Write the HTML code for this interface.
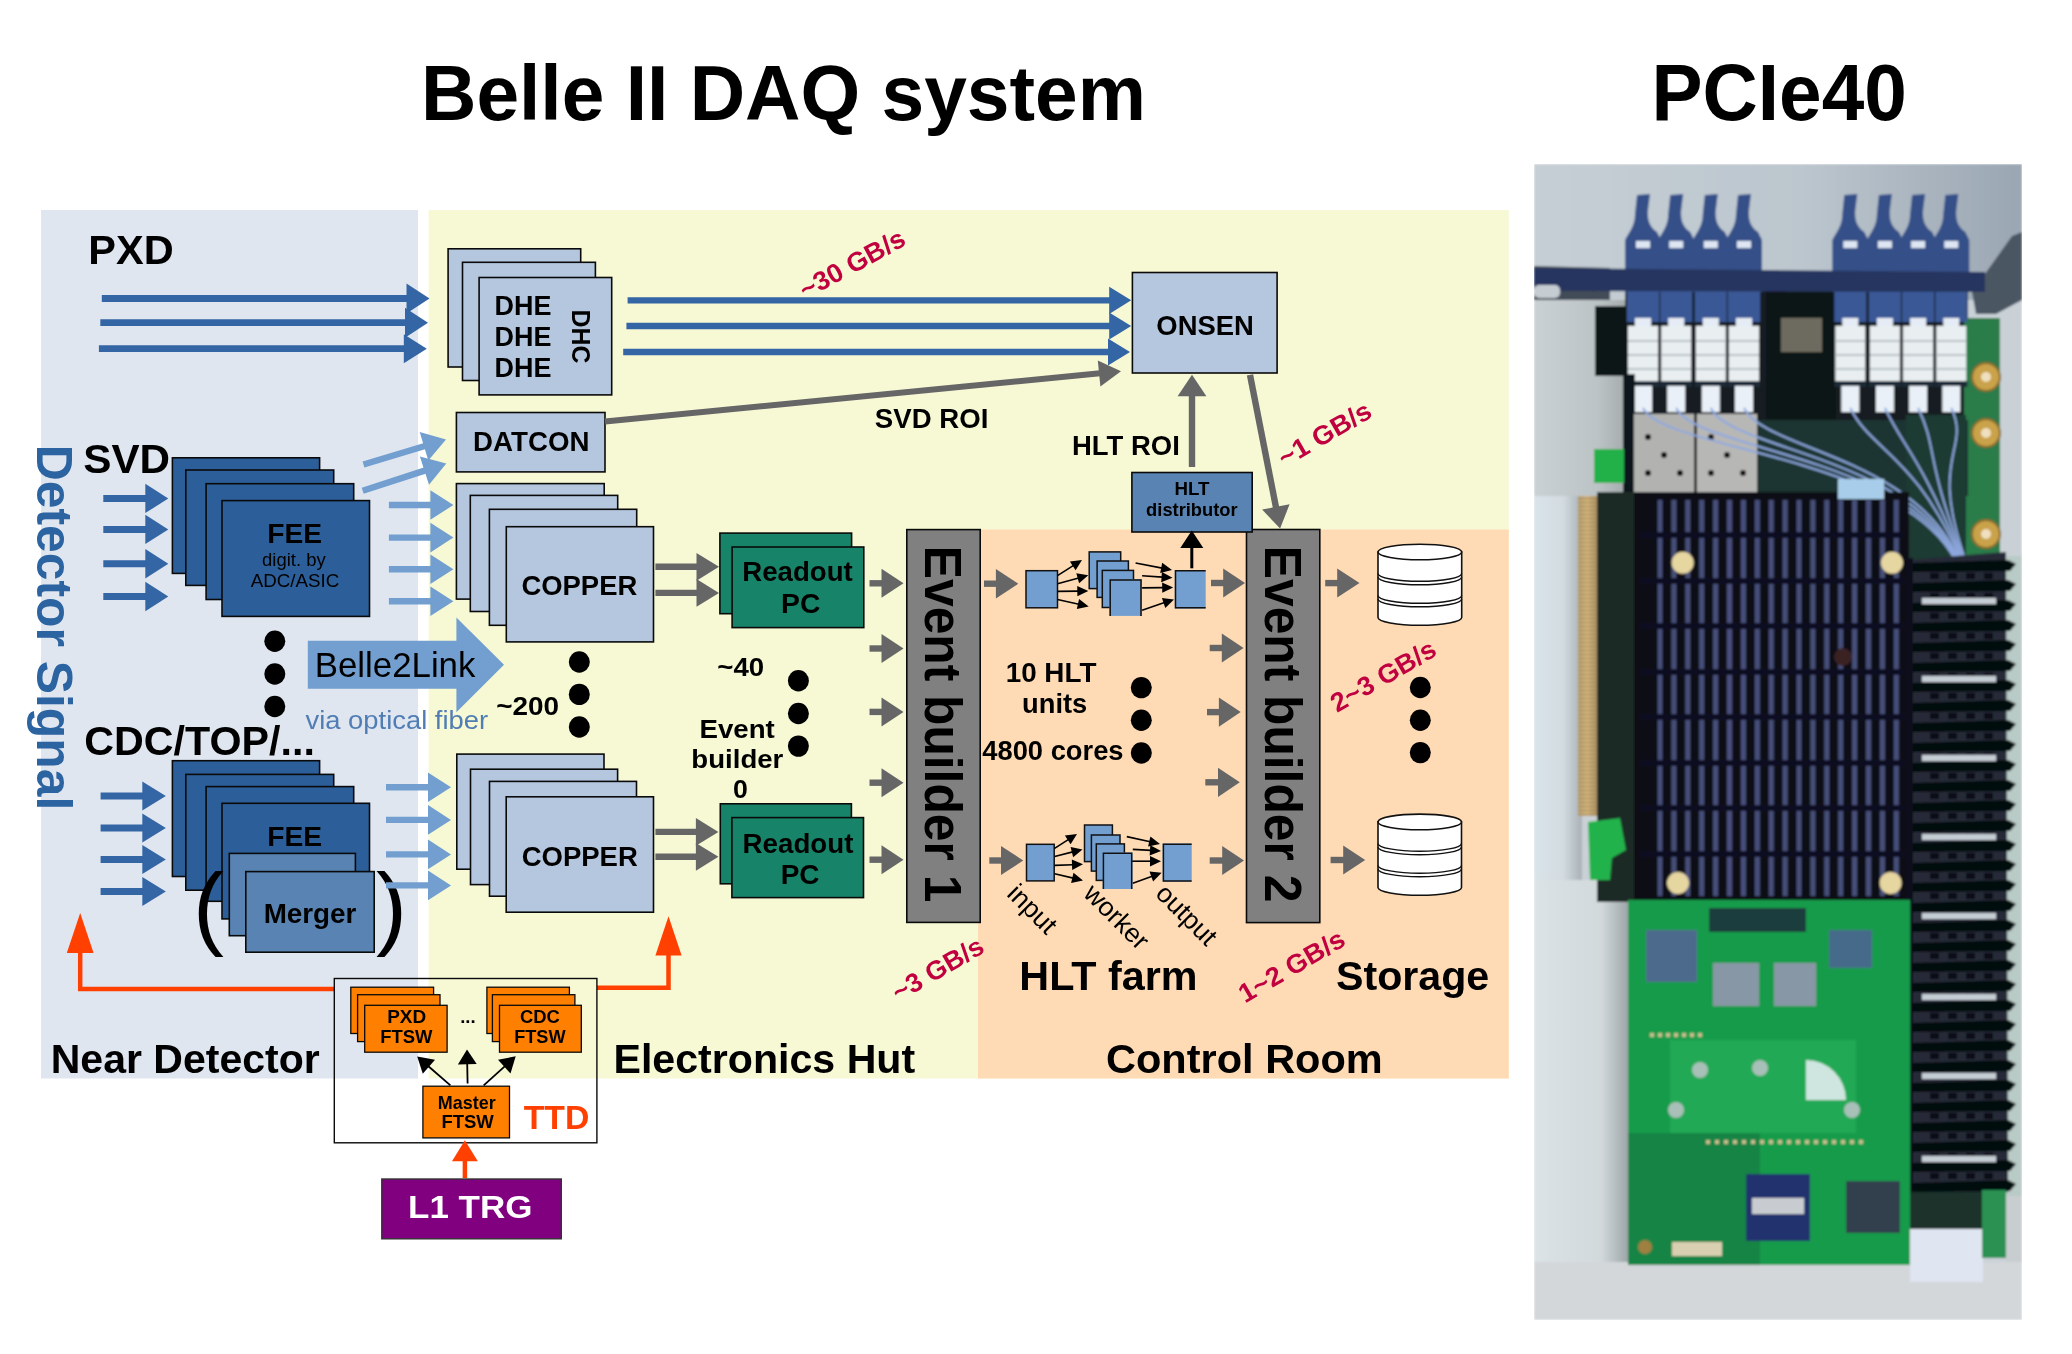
<!DOCTYPE html>
<html><head><meta charset="utf-8"><style>
html,body{margin:0;padding:0;background:#fff;width:2072px;height:1354px;overflow:hidden;font-family:"Liberation Sans", sans-serif;}
svg{will-change:transform}
</style></head><body>
<svg width="2072" height="1354" viewBox="0 0 2072 1354" style="position:absolute;left:0;top:0" font-family='"Liberation Sans", sans-serif'>
<rect x="0.0" y="0.0" width="2072.0" height="1354.0" fill="#ffffff"/>
<rect x="41.0" y="210.0" width="377.0" height="868.5" fill="#dfe6f0"/>
<rect x="428.6" y="210.0" width="1080.2" height="868.5" fill="#f7f9d5"/>
<rect x="978.0" y="529.5" width="530.8" height="549.0" fill="#ffdbb5"/>
<text id="t0" x="420.98" y="120.00" font-size="78.5" font-weight="bold" fill="#000" textLength="724.95" lengthAdjust="spacingAndGlyphs">Belle II DAQ system</text>
<text id="t1" x="1651.55" y="120.40" font-size="79" font-weight="bold" fill="#000" textLength="255.20" lengthAdjust="spacingAndGlyphs">PCIe40</text>
<text id="t2" x="88.32" y="263.60" font-size="41.5" font-weight="bold" fill="#000" textLength="85.35" lengthAdjust="spacingAndGlyphs">PXD</text>
<line x1="101.8" y1="298.5" x2="407.5" y2="298.5" stroke="#3465a4" stroke-width="6.8"/>
<polygon points="429.5,298.5 406.5,313.5 406.5,283.5" fill="#3465a4"/>
<line x1="100.3" y1="322.7" x2="406.0" y2="322.7" stroke="#3465a4" stroke-width="6.8"/>
<polygon points="428.0,322.7 405.0,337.7 405.0,307.7" fill="#3465a4"/>
<line x1="98.9" y1="348.7" x2="404.8" y2="348.7" stroke="#3465a4" stroke-width="6.8"/>
<polygon points="426.8,348.7 403.8,363.2 403.8,334.2" fill="#3465a4"/>
<rect x="448.1" y="248.8" width="132.6" height="118.2" fill="#b4c7de" stroke="#0a0a0a" stroke-width="1.6" />
<rect x="462.5" y="262.3" width="132.9" height="118.2" fill="#b4c7de" stroke="#0a0a0a" stroke-width="1.6" />
<rect x="479.1" y="277.5" width="132.6" height="117.4" fill="#b4c7de" stroke="#0a0a0a" stroke-width="1.6" />
<text id="t3" x="494.62" y="315.00" font-size="27.5" font-weight="bold" fill="#000" textLength="56.85" lengthAdjust="spacingAndGlyphs">DHE</text>
<text id="t4" x="494.62" y="346.00" font-size="27.5" font-weight="bold" fill="#000" textLength="56.85" lengthAdjust="spacingAndGlyphs">DHE</text>
<text id="t5" x="494.62" y="377.20" font-size="27.5" font-weight="bold" fill="#000" textLength="56.85" lengthAdjust="spacingAndGlyphs">DHE</text>
<text x="0.0" y="0.0" font-size="26" font-weight="bold" fill="#000" textLength="54.0" lengthAdjust="spacingAndGlyphs" transform="translate(571.6,309.4) rotate(90)" >DHC</text>
<line x1="627.6" y1="300.3" x2="1110.2" y2="300.3" stroke="#3465a4" stroke-width="6.3"/>
<polygon points="1131.2,300.3 1109.2,313.9 1109.2,286.7" fill="#3465a4"/>
<line x1="626.4" y1="326.0" x2="1110.2" y2="326.0" stroke="#3465a4" stroke-width="6.3"/>
<polygon points="1131.2,326.0 1109.2,339.6 1109.2,312.4" fill="#3465a4"/>
<line x1="623.2" y1="352.0" x2="1109.0" y2="352.0" stroke="#3465a4" stroke-width="6.3"/>
<polygon points="1130.0,352.0 1108.0,365.6 1108.0,338.4" fill="#3465a4"/>
<text x="0.0" y="0.0" font-size="26.5" font-weight="bold" fill="#c0003f" textLength="116.0" lengthAdjust="spacingAndGlyphs" transform="translate(805.5,299.5) rotate(-28.5)" >~30 GB/s</text>
<rect x="1132.4" y="272.5" width="144.7" height="100.5" fill="#b4c7de" stroke="#0a0a0a" stroke-width="1.6" />
<text id="t6" x="1156.33" y="335.10" font-size="27.5" font-weight="bold" fill="#000" textLength="97.55" lengthAdjust="spacingAndGlyphs">ONSEN</text>
<rect x="456.4" y="412.5" width="148.6" height="59.4" fill="#b4c7de" stroke="#0a0a0a" stroke-width="1.6" />
<text id="t7" x="473.12" y="451.20" font-size="27.5" font-weight="bold" fill="#000" textLength="116.35" lengthAdjust="spacingAndGlyphs">DATCON</text>
<line x1="605.0" y1="421.6" x2="1100.1" y2="373.3" stroke="#666666" stroke-width="6"/>
<polygon points="1121.0,371.3 1100.4,386.4 1097.8,360.5" fill="#666666"/>
<text id="t8" x="874.85" y="427.50" font-size="27" font-weight="bold" fill="#000" textLength="113.50" lengthAdjust="spacingAndGlyphs">SVD ROI</text>
<line x1="1192.0" y1="467.0" x2="1192.0" y2="395.3" stroke="#666666" stroke-width="6.4"/>
<polygon points="1192.0,374.8 1206.4,396.3 1177.6,396.3" fill="#666666"/>
<text id="t9" x="1072.02" y="454.50" font-size="27.5" font-weight="bold" fill="#000" textLength="107.85" lengthAdjust="spacingAndGlyphs">HLT ROI</text>
<line x1="1250.0" y1="374.8" x2="1276.1" y2="507.9" stroke="#666666" stroke-width="6.4"/>
<polygon points="1280.1,528.5 1262.1,509.6 1289.6,504.2" fill="#666666"/>
<text x="0.0" y="0.0" font-size="26.5" font-weight="bold" fill="#c0003f" textLength="103.0" lengthAdjust="spacingAndGlyphs" transform="translate(1284.5,467.5) rotate(-30)" >~1 GB/s</text>
<text id="t10" x="83.22" y="473.00" font-size="41.5" font-weight="bold" fill="#000" textLength="86.85" lengthAdjust="spacingAndGlyphs">SVD</text>
<line x1="103.3" y1="498.4" x2="146.3" y2="498.4" stroke="#3465a4" stroke-width="7"/>
<polygon points="168.3,498.4 145.3,513.1 145.3,483.7" fill="#3465a4"/>
<line x1="103.3" y1="529.4" x2="146.3" y2="529.4" stroke="#3465a4" stroke-width="7"/>
<polygon points="168.3,529.4 145.3,544.1 145.3,514.7" fill="#3465a4"/>
<line x1="103.3" y1="563.8" x2="146.3" y2="563.8" stroke="#3465a4" stroke-width="7"/>
<polygon points="168.3,563.8 145.3,578.5 145.3,549.1" fill="#3465a4"/>
<line x1="103.3" y1="596.5" x2="146.3" y2="596.5" stroke="#3465a4" stroke-width="7"/>
<polygon points="168.3,596.5 145.3,611.2 145.3,581.8" fill="#3465a4"/>
<rect x="172.4" y="457.8" width="147.2" height="115.6" fill="#2c5f99" stroke="#0a0a0a" stroke-width="1.6" />
<rect x="185.8" y="470.0" width="147.9" height="115.4" fill="#2c5f99" stroke="#0a0a0a" stroke-width="1.6" />
<rect x="206.1" y="483.7" width="147.6" height="115.8" fill="#2c5f99" stroke="#0a0a0a" stroke-width="1.6" />
<rect x="222.0" y="500.6" width="147.5" height="115.8" fill="#2c5f99" stroke="#0a0a0a" stroke-width="1.6" />
<text id="t11" x="267.25" y="542.60" font-size="27" font-weight="bold" fill="#000" textLength="54.80" lengthAdjust="spacingAndGlyphs">FEE</text>
<text id="t12" x="262.07" y="565.80" font-size="18.5" font-weight="normal" fill="#000" textLength="63.65" lengthAdjust="spacingAndGlyphs">digit. by</text>
<text id="t13" x="250.70" y="586.50" font-size="18" font-weight="normal" fill="#000" textLength="88.60" lengthAdjust="spacingAndGlyphs">ADC/ASIC</text>
<line x1="388.9" y1="505.0" x2="431.4" y2="505.0" stroke="#729fcf" stroke-width="6.4"/>
<polygon points="453.4,505.0 430.4,519.8 430.4,490.2" fill="#729fcf"/>
<line x1="388.9" y1="537.6" x2="431.4" y2="537.6" stroke="#729fcf" stroke-width="6.4"/>
<polygon points="453.4,537.6 430.4,552.4 430.4,522.8" fill="#729fcf"/>
<line x1="388.9" y1="569.2" x2="431.4" y2="569.2" stroke="#729fcf" stroke-width="6.4"/>
<polygon points="453.4,569.2 430.4,584.0 430.4,554.4" fill="#729fcf"/>
<line x1="388.9" y1="601.3" x2="431.4" y2="601.3" stroke="#729fcf" stroke-width="6.4"/>
<polygon points="453.4,601.3 430.4,616.1 430.4,586.5" fill="#729fcf"/>
<line x1="363.5" y1="464.5" x2="424.9" y2="446.0" stroke="#729fcf" stroke-width="6.4"/>
<polygon points="446.0,439.6 428.3,460.4 419.7,432.1" fill="#729fcf"/>
<line x1="362.7" y1="490.7" x2="425.4" y2="470.4" stroke="#729fcf" stroke-width="6.4"/>
<polygon points="446.3,463.6 429.0,484.8 419.9,456.6" fill="#729fcf"/>
<rect x="456.4" y="483.6" width="147.8" height="115.5" fill="#b4c7de" stroke="#0a0a0a" stroke-width="1.6" />
<rect x="470.3" y="495.4" width="147.4" height="116.1" fill="#b4c7de" stroke="#0a0a0a" stroke-width="1.6" />
<rect x="489.4" y="509.3" width="147.3" height="116.0" fill="#b4c7de" stroke="#0a0a0a" stroke-width="1.6" />
<rect x="506.3" y="526.7" width="147.2" height="115.2" fill="#b4c7de" stroke="#0a0a0a" stroke-width="1.6" />
<text id="t14" x="521.45" y="595.00" font-size="27" font-weight="bold" fill="#000" textLength="115.80" lengthAdjust="spacingAndGlyphs">COPPER</text>
<line x1="655.4" y1="566.8" x2="697.5" y2="566.8" stroke="#666666" stroke-width="6.4"/>
<polygon points="719.0,566.8 696.5,580.7 696.5,552.9" fill="#666666"/>
<line x1="655.4" y1="592.9" x2="697.5" y2="592.9" stroke="#666666" stroke-width="6.4"/>
<polygon points="719.0,592.9 696.5,606.8 696.5,579.0" fill="#666666"/>
<rect x="719.9" y="533.1" width="131.7" height="80.6" fill="#178469" stroke="#0a0a0a" stroke-width="1.6" />
<rect x="732.1" y="547.0" width="131.7" height="80.6" fill="#178469" stroke="#0a0a0a" stroke-width="1.6" />
<text id="t15" x="742.23" y="580.90" font-size="27.5" font-weight="bold" fill="#000" textLength="110.55" lengthAdjust="spacingAndGlyphs">Readout</text>
<text id="t16" x="781.12" y="612.50" font-size="27.5" font-weight="bold" fill="#000" textLength="39.25" lengthAdjust="spacingAndGlyphs">PC</text>
<polygon points="307.8,640.8 456.4,640.8 456.4,617.4 504,664.8 456.4,712.2 456.4,688.8 307.8,688.8" fill="#729fcf"/>
<text id="t17" x="314.68" y="676.80" font-size="34.5" font-weight="normal" fill="#000" textLength="160.75" lengthAdjust="spacingAndGlyphs">Belle2Link</text>
<text id="t18" x="305.50" y="728.80" font-size="26" font-weight="normal" fill="#507db4" textLength="182.60" lengthAdjust="spacingAndGlyphs">via optical fiber</text>
<ellipse cx="274.8" cy="641.3" rx="10.5" ry="10.7" fill="#000"/>
<ellipse cx="274.8" cy="674.0" rx="10.5" ry="10.7" fill="#000"/>
<ellipse cx="274.8" cy="706.5" rx="10.5" ry="10.7" fill="#000"/>
<ellipse cx="579.3" cy="662.0" rx="10.5" ry="10.7" fill="#000"/>
<ellipse cx="579.3" cy="694.4" rx="10.5" ry="10.7" fill="#000"/>
<ellipse cx="579.3" cy="727.0" rx="10.5" ry="10.7" fill="#000"/>
<ellipse cx="798.4" cy="680.8" rx="10.5" ry="10.7" fill="#000"/>
<ellipse cx="798.4" cy="713.5" rx="10.5" ry="10.7" fill="#000"/>
<ellipse cx="798.4" cy="746.1" rx="10.5" ry="10.7" fill="#000"/>
<ellipse cx="1141.3" cy="687.6" rx="10.5" ry="10.7" fill="#000"/>
<ellipse cx="1141.3" cy="720.3" rx="10.5" ry="10.7" fill="#000"/>
<ellipse cx="1141.3" cy="753.0" rx="10.5" ry="10.7" fill="#000"/>
<ellipse cx="1420.3" cy="687.5" rx="10.5" ry="10.7" fill="#000"/>
<ellipse cx="1420.3" cy="720.2" rx="10.5" ry="10.7" fill="#000"/>
<ellipse cx="1420.3" cy="752.6" rx="10.5" ry="10.7" fill="#000"/>
<text id="t19" x="496.27" y="714.70" font-size="26.5" font-weight="bold" fill="#000" textLength="62.85" lengthAdjust="spacingAndGlyphs">~200</text>
<text id="t20" x="717.28" y="676.30" font-size="26.5" font-weight="bold" fill="#000" textLength="46.85" lengthAdjust="spacingAndGlyphs">~40</text>
<text id="t21" x="699.48" y="737.60" font-size="26.5" font-weight="bold" fill="#000" textLength="75.35" lengthAdjust="spacingAndGlyphs">Event</text>
<text id="t22" x="691.37" y="768.00" font-size="26.5" font-weight="bold" fill="#000" textLength="91.95" lengthAdjust="spacingAndGlyphs">builder</text>
<text id="t23" x="733.07" y="798.40" font-size="26.5" font-weight="bold" fill="#000" textLength="14.85" lengthAdjust="spacingAndGlyphs">0</text>
<text id="t24" x="84.32" y="754.70" font-size="41.5" font-weight="bold" fill="#000" textLength="230.55" lengthAdjust="spacingAndGlyphs">CDC/TOP/...</text>
<line x1="100.6" y1="795.9" x2="143.3" y2="795.9" stroke="#3465a4" stroke-width="7"/>
<polygon points="165.8,795.9 142.3,810.4 142.3,781.4" fill="#3465a4"/>
<line x1="100.6" y1="828.1" x2="143.3" y2="828.1" stroke="#3465a4" stroke-width="7"/>
<polygon points="165.8,828.1 142.3,842.6 142.3,813.6" fill="#3465a4"/>
<line x1="100.6" y1="859.6" x2="143.3" y2="859.6" stroke="#3465a4" stroke-width="7"/>
<polygon points="165.8,859.6 142.3,874.1 142.3,845.1" fill="#3465a4"/>
<line x1="100.6" y1="891.6" x2="143.3" y2="891.6" stroke="#3465a4" stroke-width="7"/>
<polygon points="165.8,891.6 142.3,906.1 142.3,877.1" fill="#3465a4"/>
<rect x="172.4" y="760.7" width="147.2" height="115.8" fill="#2c5f99" stroke="#0a0a0a" stroke-width="1.6" />
<rect x="185.8" y="774.4" width="147.9" height="115.8" fill="#2c5f99" stroke="#0a0a0a" stroke-width="1.6" />
<rect x="206.1" y="786.6" width="147.6" height="114.7" fill="#2c5f99" stroke="#0a0a0a" stroke-width="1.6" />
<rect x="222.0" y="803.3" width="147.5" height="115.6" fill="#2c5f99" stroke="#0a0a0a" stroke-width="1.6" />
<text id="t25" x="267.25" y="846.10" font-size="27" font-weight="bold" fill="#000" textLength="54.80" lengthAdjust="spacingAndGlyphs">FEE</text>
<rect x="229.3" y="853.4" width="126.1" height="82.3" fill="#5983b2" stroke="#0a0a0a" stroke-width="1.6" />
<rect x="245.8" y="871.6" width="128.4" height="80.6" fill="#5983b2" stroke="#0a0a0a" stroke-width="1.6" />
<text id="t26" x="263.65" y="923.00" font-size="27" font-weight="bold" fill="#000" textLength="92.70" lengthAdjust="spacingAndGlyphs">Merger</text>
<text x="193.0" y="937.5" font-size="93" font-weight="normal" fill="#000" >(</text>
<text x="376.0" y="937.5" font-size="93" font-weight="normal" fill="#000" >)</text>
<line x1="386.0" y1="787.2" x2="429.0" y2="787.2" stroke="#729fcf" stroke-width="6.4"/>
<polygon points="451.0,787.2 428.0,802.0 428.0,772.4" fill="#729fcf"/>
<line x1="386.0" y1="819.9" x2="429.0" y2="819.9" stroke="#729fcf" stroke-width="6.4"/>
<polygon points="451.0,819.9 428.0,834.7 428.0,805.1" fill="#729fcf"/>
<line x1="386.0" y1="854.4" x2="429.0" y2="854.4" stroke="#729fcf" stroke-width="6.4"/>
<polygon points="451.0,854.4 428.0,869.2 428.0,839.6" fill="#729fcf"/>
<line x1="386.0" y1="885.4" x2="429.0" y2="885.4" stroke="#729fcf" stroke-width="6.4"/>
<polygon points="451.0,885.4 428.0,900.2 428.0,870.6" fill="#729fcf"/>
<rect x="456.8" y="754.1" width="147.2" height="115.1" fill="#b4c7de" stroke="#0a0a0a" stroke-width="1.6" />
<rect x="470.5" y="769.2" width="147.1" height="115.4" fill="#b4c7de" stroke="#0a0a0a" stroke-width="1.6" />
<rect x="489.5" y="781.4" width="147.0" height="114.8" fill="#b4c7de" stroke="#0a0a0a" stroke-width="1.6" />
<rect x="506.2" y="796.8" width="147.3" height="115.4" fill="#b4c7de" stroke="#0a0a0a" stroke-width="1.6" />
<text id="t27" x="521.65" y="865.70" font-size="27" font-weight="bold" fill="#000" textLength="116.20" lengthAdjust="spacingAndGlyphs">COPPER</text>
<line x1="655.4" y1="831.9" x2="696.9" y2="831.9" stroke="#666666" stroke-width="6.4"/>
<polygon points="718.4,831.9 695.9,845.8 695.9,818.0" fill="#666666"/>
<line x1="655.4" y1="856.8" x2="696.9" y2="856.8" stroke="#666666" stroke-width="6.4"/>
<polygon points="718.4,856.8 695.9,870.7 695.9,842.9" fill="#666666"/>
<rect x="720.3" y="803.8" width="131.1" height="80.0" fill="#178469" stroke="#0a0a0a" stroke-width="1.6" />
<rect x="731.9" y="817.6" width="131.6" height="80.0" fill="#178469" stroke="#0a0a0a" stroke-width="1.6" />
<text id="t28" x="742.62" y="852.70" font-size="27.5" font-weight="bold" fill="#000" textLength="110.75" lengthAdjust="spacingAndGlyphs">Readout</text>
<text id="t29" x="780.73" y="884.00" font-size="27.5" font-weight="bold" fill="#000" textLength="38.85" lengthAdjust="spacingAndGlyphs">PC</text>
<line x1="869.5" y1="583.3" x2="882.5" y2="583.3" stroke="#666666" stroke-width="6.4"/>
<polygon points="903.5,583.3 881.5,597.8 881.5,568.8" fill="#666666"/>
<line x1="869.5" y1="648.5" x2="882.5" y2="648.5" stroke="#666666" stroke-width="6.4"/>
<polygon points="903.5,648.5 881.5,663.0 881.5,634.0" fill="#666666"/>
<line x1="869.5" y1="711.9" x2="882.5" y2="711.9" stroke="#666666" stroke-width="6.4"/>
<polygon points="903.5,711.9 881.5,726.4 881.5,697.4" fill="#666666"/>
<line x1="869.5" y1="782.7" x2="882.5" y2="782.7" stroke="#666666" stroke-width="6.4"/>
<polygon points="903.5,782.7 881.5,797.2 881.5,768.2" fill="#666666"/>
<line x1="869.5" y1="859.7" x2="882.5" y2="859.7" stroke="#666666" stroke-width="6.4"/>
<polygon points="903.5,859.7 881.5,874.2 881.5,845.2" fill="#666666"/>
<rect x="906.8" y="529.6" width="73.4" height="392.8" fill="#808080" stroke="#0a0a0a" stroke-width="1.6" />
<text x="0.0" y="0.0" font-size="51" font-weight="bold" fill="#000" textLength="356.5" lengthAdjust="spacingAndGlyphs" transform="translate(925,545.8) rotate(90)" >Event builder 1</text>
<rect x="1246.5" y="529.5" width="73.3" height="393.1" fill="#808080" stroke="#0a0a0a" stroke-width="1.6" />
<text x="0.0" y="0.0" font-size="51" font-weight="bold" fill="#000" textLength="356.5" lengthAdjust="spacingAndGlyphs" transform="translate(1265,545.8) rotate(90)" >Event builder 2</text>
<rect x="1131.9" y="472.5" width="120.3" height="59.5" fill="#5983b2" stroke="#0a0a0a" stroke-width="1.6" />
<text id="t30" x="1174.42" y="495.40" font-size="17.5" font-weight="bold" fill="#000" textLength="35.05" lengthAdjust="spacingAndGlyphs">HLT</text>
<text id="t31" x="1146.12" y="515.50" font-size="17.5" font-weight="bold" fill="#000" textLength="91.55" lengthAdjust="spacingAndGlyphs">distributor</text>
<rect x="1026.0" y="570.7" width="31.5" height="37.1" fill="#729fcf" stroke="#111" stroke-width="1.5" />
<rect x="1089.2" y="551.9" width="31.5" height="36.7" fill="#729fcf" stroke="#111" stroke-width="1.5" />
<rect x="1097.1" y="561.0" width="31.3" height="36.4" fill="#729fcf" stroke="#111" stroke-width="1.5" />
<rect x="1102.3" y="570.4" width="31.2" height="37.1" fill="#729fcf" stroke="#111" stroke-width="1.5" />
<rect x="1109.5" y="579.1" width="32.3" height="36.8" fill="#729fcf"/>
<polyline points="1110.2,615.95 1110.2,579.9 1141,579.9 1141,615.95" fill="none" stroke="#111" stroke-width="1.5"/>
<rect x="1174.8" y="570.0" width="30.9" height="38.6" fill="#729fcf"/>
<polyline points="1205.65,570.7 1175.5,570.7 1175.5,607.8 1205.65,607.8" fill="none" stroke="#111" stroke-width="1.5"/>
<line x1="1057.5" y1="575.7" x2="1073.6" y2="565.3" stroke="#000" stroke-width="1.6"/>
<polygon points="1082.0,559.9 1075.6,570.2 1069.9,561.5" fill="#000"/>
<line x1="1057.5" y1="583.7" x2="1078.7" y2="577.9" stroke="#000" stroke-width="1.6"/>
<polygon points="1088.3,575.3 1079.1,583.2 1076.3,573.2" fill="#000"/>
<line x1="1057.5" y1="591.4" x2="1078.3" y2="591.1" stroke="#000" stroke-width="1.6"/>
<polygon points="1088.3,591.0 1077.4,596.3 1077.2,585.9" fill="#000"/>
<line x1="1057.5" y1="599.5" x2="1078.9" y2="604.2" stroke="#000" stroke-width="1.6"/>
<polygon points="1088.7,606.4 1076.8,609.1 1079.1,598.9" fill="#000"/>
<line x1="1135.6" y1="563.0" x2="1162.2" y2="568.1" stroke="#000" stroke-width="1.6"/>
<polygon points="1172.0,570.0 1160.2,573.0 1162.2,562.8" fill="#000"/>
<line x1="1142.1" y1="575.7" x2="1162.5" y2="577.1" stroke="#000" stroke-width="1.6"/>
<polygon points="1172.5,577.8 1161.2,582.2 1161.9,571.9" fill="#000"/>
<line x1="1142.1" y1="587.9" x2="1163.2" y2="587.6" stroke="#000" stroke-width="1.6"/>
<polygon points="1173.2,587.5 1162.3,592.8 1162.1,582.4" fill="#000"/>
<line x1="1142.1" y1="610.3" x2="1164.5" y2="602.6" stroke="#000" stroke-width="1.6"/>
<polygon points="1174.0,599.4 1165.3,607.9 1161.9,598.0" fill="#000"/>
<rect x="1026.5" y="844.3" width="27.7" height="36.6" fill="#729fcf" stroke="#111" stroke-width="1.5" />
<rect x="1084.5" y="825.0" width="27.9" height="36.6" fill="#729fcf" stroke="#111" stroke-width="1.5" />
<rect x="1091.4" y="835.0" width="28.6" height="36.1" fill="#729fcf" stroke="#111" stroke-width="1.5" />
<rect x="1096.3" y="843.9" width="28.1" height="36.5" fill="#729fcf" stroke="#111" stroke-width="1.5" />
<rect x="1102.7" y="852.5" width="29.8" height="36.5" fill="#729fcf"/>
<polyline points="1103.4,888.95 1103.4,853.2 1131.7,853.2 1131.7,888.95" fill="none" stroke="#111" stroke-width="1.5"/>
<rect x="1162.7" y="843.5" width="29.0" height="38.1" fill="#729fcf"/>
<polyline points="1191.65,844.3 1163.4,844.3 1163.4,880.9 1191.65,880.9" fill="none" stroke="#111" stroke-width="1.5"/>
<line x1="1054.6" y1="848.3" x2="1068.6" y2="839.3" stroke="#000" stroke-width="1.6"/>
<polygon points="1077.0,833.9 1070.6,844.2 1064.9,835.5" fill="#000"/>
<line x1="1054.6" y1="856.5" x2="1072.8" y2="851.9" stroke="#000" stroke-width="1.6"/>
<polygon points="1082.5,849.4 1073.1,857.2 1070.6,847.1" fill="#000"/>
<line x1="1054.6" y1="865.4" x2="1073.0" y2="864.7" stroke="#000" stroke-width="1.6"/>
<polygon points="1083.0,864.3 1072.2,869.9 1071.8,859.5" fill="#000"/>
<line x1="1054.6" y1="873.8" x2="1073.3" y2="878.1" stroke="#000" stroke-width="1.6"/>
<polygon points="1083.0,880.4 1071.1,883.0 1073.5,872.8" fill="#000"/>
<line x1="1126.8" y1="836.6" x2="1150.2" y2="841.8" stroke="#000" stroke-width="1.6"/>
<polygon points="1160.0,843.9 1148.1,846.6 1150.4,836.5" fill="#000"/>
<line x1="1132.8" y1="849.4" x2="1151.0" y2="850.4" stroke="#000" stroke-width="1.6"/>
<polygon points="1161.0,851.0 1149.7,855.6 1150.3,845.2" fill="#000"/>
<line x1="1132.2" y1="861.2" x2="1151.0" y2="861.2" stroke="#000" stroke-width="1.6"/>
<polygon points="1161.0,861.2 1150.0,866.4 1150.0,856.0" fill="#000"/>
<line x1="1132.8" y1="883.3" x2="1152.2" y2="876.2" stroke="#000" stroke-width="1.6"/>
<polygon points="1161.6,872.7 1153.1,881.4 1149.5,871.6" fill="#000"/>
<line x1="1191.8" y1="568.3" x2="1191.8" y2="547.0" stroke="#000" stroke-width="3"/>
<polygon points="1191.8,530.5 1203.3,548.0 1180.3,548.0" fill="#000"/>
<line x1="984.0" y1="583.7" x2="996.9" y2="583.7" stroke="#666666" stroke-width="6.4"/>
<polygon points="1018.3,583.7 995.9,598.4 995.9,569.0" fill="#666666"/>
<line x1="989.3" y1="860.5" x2="1002.0" y2="860.5" stroke="#666666" stroke-width="6.4"/>
<polygon points="1023.2,860.5 1001.0,875.1 1001.0,845.9" fill="#666666"/>
<line x1="1211.0" y1="583.0" x2="1224.2" y2="583.0" stroke="#666666" stroke-width="6.4"/>
<polygon points="1245.0,583.0 1223.2,597.6 1223.2,568.4" fill="#666666"/>
<line x1="1209.7" y1="648.0" x2="1222.8" y2="648.0" stroke="#666666" stroke-width="6.4"/>
<polygon points="1243.6,648.0 1221.8,662.6 1221.8,633.4" fill="#666666"/>
<line x1="1207.0" y1="712.1" x2="1219.9" y2="712.1" stroke="#666666" stroke-width="6.4"/>
<polygon points="1240.7,712.1 1218.9,726.7 1218.9,697.5" fill="#666666"/>
<line x1="1205.3" y1="782.3" x2="1219.0" y2="782.3" stroke="#666666" stroke-width="6.4"/>
<polygon points="1239.8,782.3 1218.0,796.9 1218.0,767.7" fill="#666666"/>
<line x1="1209.7" y1="860.5" x2="1223.2" y2="860.5" stroke="#666666" stroke-width="6.4"/>
<polygon points="1244.0,860.5 1222.2,875.1 1222.2,845.9" fill="#666666"/>
<text id="t32" x="1005.65" y="682.30" font-size="27" font-weight="bold" fill="#000" textLength="90.80" lengthAdjust="spacingAndGlyphs">10 HLT</text>
<text id="t33" x="1022.05" y="713.20" font-size="27" font-weight="bold" fill="#000" textLength="65.20" lengthAdjust="spacingAndGlyphs">units</text>
<text id="t34" x="982.25" y="760.10" font-size="27" font-weight="bold" fill="#000" textLength="141.30" lengthAdjust="spacingAndGlyphs">4800 cores</text>
<text x="0.0" y="0.0" font-size="26.5" font-weight="normal" fill="#000" transform="translate(1005.8,895) rotate(45)" >input</text>
<text x="0.0" y="0.0" font-size="26.5" font-weight="normal" fill="#000" transform="translate(1082.3,895) rotate(45)" >worker</text>
<text x="0.0" y="0.0" font-size="26.5" font-weight="normal" fill="#000" transform="translate(1154.3,895) rotate(45)" >output</text>
<line x1="1325.2" y1="583.1" x2="1338.2" y2="583.1" stroke="#666666" stroke-width="6.4"/>
<polygon points="1359.5,583.1 1337.2,597.6 1337.2,568.6" fill="#666666"/>
<line x1="1330.6" y1="860.0" x2="1344.2" y2="860.0" stroke="#666666" stroke-width="6.4"/>
<polygon points="1365.2,860.0 1343.2,874.6 1343.2,845.4" fill="#666666"/>
<path d="M1378,552.0 L1378,617.5 A41.85000000000002,7.8 0 0 0 1461.7,617.5 L1461.7,552.0 Z" fill="#fff" stroke="#111" stroke-width="1.6"/>
<ellipse cx="1419.85" cy="552.0" rx="41.85000000000002" ry="7.8" fill="#fff" stroke="#111" stroke-width="1.6"/>
<path d="M1378,573.5 A41.85000000000002,7.8 0 0 0 1461.7,573.5" fill="none" stroke="#111" stroke-width="1.4"/>
<path d="M1378,577.0 A41.85000000000002,7.8 0 0 0 1461.7,577.0" fill="none" stroke="#111" stroke-width="1.4"/>
<path d="M1378,595.5 A41.85000000000002,7.8 0 0 0 1461.7,595.5" fill="none" stroke="#111" stroke-width="1.4"/>
<path d="M1378,599.0 A41.85000000000002,7.8 0 0 0 1461.7,599.0" fill="none" stroke="#111" stroke-width="1.4"/>
<path d="M1378,821.9 L1378,887.4 A41.75,7.8 0 0 0 1461.5,887.4 L1461.5,821.9 Z" fill="#fff" stroke="#111" stroke-width="1.6"/>
<ellipse cx="1419.75" cy="821.9" rx="41.75" ry="7.8" fill="#fff" stroke="#111" stroke-width="1.6"/>
<path d="M1378,843.4 A41.75,7.8 0 0 0 1461.5,843.4" fill="none" stroke="#111" stroke-width="1.4"/>
<path d="M1378,846.9 A41.75,7.8 0 0 0 1461.5,846.9" fill="none" stroke="#111" stroke-width="1.4"/>
<path d="M1378,865.4 A41.75,7.8 0 0 0 1461.5,865.4" fill="none" stroke="#111" stroke-width="1.4"/>
<path d="M1378,868.9 A41.75,7.8 0 0 0 1461.5,868.9" fill="none" stroke="#111" stroke-width="1.4"/>
<text x="0.0" y="0.0" font-size="26.5" font-weight="bold" fill="#c0003f" textLength="117.0" lengthAdjust="spacingAndGlyphs" transform="translate(1337,713) rotate(-30)" >2~3 GB/s</text>
<text x="0.0" y="0.0" font-size="26.5" font-weight="bold" fill="#c0003f" textLength="101.0" lengthAdjust="spacingAndGlyphs" transform="translate(898.5,1002) rotate(-30)" >~3 GB/s</text>
<text x="0.0" y="0.0" font-size="26.5" font-weight="bold" fill="#c0003f" textLength="118.0" lengthAdjust="spacingAndGlyphs" transform="translate(1245,1003.5) rotate(-30)" >1~2 GB/s</text>
<text id="t35" x="1019.32" y="989.50" font-size="41.5" font-weight="bold" fill="#000" textLength="178.25" lengthAdjust="spacingAndGlyphs">HLT farm</text>
<text id="t36" x="1336.03" y="990.30" font-size="41.5" font-weight="bold" fill="#000" textLength="153.25" lengthAdjust="spacingAndGlyphs">Storage</text>
<text id="t37" x="50.73" y="1073.10" font-size="41.5" font-weight="bold" fill="#000" textLength="268.95" lengthAdjust="spacingAndGlyphs">Near Detector</text>
<text id="t38" x="613.53" y="1072.90" font-size="41.5" font-weight="bold" fill="#000" textLength="301.65" lengthAdjust="spacingAndGlyphs">Electronics Hut</text>
<text id="t39" x="1106.03" y="1072.90" font-size="41.5" font-weight="bold" fill="#000" textLength="276.75" lengthAdjust="spacingAndGlyphs">Control Room</text>
<text x="0.0" y="0.0" font-size="50" font-weight="bold" fill="#2c64a2" textLength="365.5" lengthAdjust="spacingAndGlyphs" transform="translate(36.6,444.8) rotate(90)" >Detector Signal</text>
<polyline points="80.2,935 80.2,989 335,989" fill="none" stroke="#ff4000" stroke-width="4.5"/>
<polygon points="80.2,912.9 93.6,953 66.8,953" fill="#ff4000"/>
<polyline points="597,987.8 668.5,987.8 668.5,945" fill="none" stroke="#ff4000" stroke-width="4.5"/>
<polygon points="668.5,916.2 681.6,955.4 655.4,955.4" fill="#ff4000"/>
<rect x="334.3" y="978.5" width="262.6" height="164.3" fill="none" stroke="#0a0a0a" stroke-width="1.4" />
<rect x="350.8" y="987.2" width="82.8" height="46.3" fill="#ff8000" stroke="#0a0a0a" stroke-width="1.3" />
<rect x="357.6" y="994.7" width="82.4" height="46.9" fill="#ff8000" stroke="#0a0a0a" stroke-width="1.3" />
<rect x="364.7" y="1005.3" width="82.4" height="46.9" fill="#ff8000" stroke="#0a0a0a" stroke-width="1.3" />
<text id="t40" x="387.17" y="1022.70" font-size="18.5" font-weight="bold" fill="#000" textLength="39.05" lengthAdjust="spacingAndGlyphs">PXD</text>
<text id="t41" x="380.27" y="1042.70" font-size="18.5" font-weight="bold" fill="#000" textLength="52.25" lengthAdjust="spacingAndGlyphs">FTSW</text>
<rect x="486.9" y="987.2" width="82.5" height="46.3" fill="#ff8000" stroke="#0a0a0a" stroke-width="1.3" />
<rect x="492.4" y="994.7" width="82.5" height="46.9" fill="#ff8000" stroke="#0a0a0a" stroke-width="1.3" />
<rect x="499.5" y="1005.3" width="81.8" height="46.9" fill="#ff8000" stroke="#0a0a0a" stroke-width="1.3" />
<text id="t42" x="519.97" y="1022.70" font-size="18.5" font-weight="bold" fill="#000" textLength="39.95" lengthAdjust="spacingAndGlyphs">CDC</text>
<text id="t43" x="514.18" y="1042.70" font-size="18.5" font-weight="bold" fill="#000" textLength="51.45" lengthAdjust="spacingAndGlyphs">FTSW</text>
<text id="t44" x="460.17" y="1023.30" font-size="18.5" font-weight="bold" fill="#000" textLength="15.45" lengthAdjust="spacingAndGlyphs">...</text>
<rect x="422.9" y="1086.2" width="86.6" height="51.7" fill="#ff8000" stroke="#0a0a0a" stroke-width="1.3" />
<text id="t45" x="437.77" y="1108.60" font-size="18.5" font-weight="bold" fill="#000" textLength="57.85" lengthAdjust="spacingAndGlyphs">Master</text>
<text id="t46" x="441.38" y="1128.10" font-size="18.5" font-weight="bold" fill="#000" textLength="52.45" lengthAdjust="spacingAndGlyphs">FTSW</text>
<line x1="450.4" y1="1085.4" x2="428.1" y2="1066.0" stroke="#000" stroke-width="1.8"/>
<polygon points="417.2,1056.5 435.0,1059.7 422.8,1073.7" fill="#000"/>
<line x1="467.6" y1="1083.5" x2="467.2" y2="1063.3" stroke="#000" stroke-width="1.8"/>
<polygon points="467.0,1049.6 476.7,1064.1 457.9,1064.5" fill="#000"/>
<line x1="483.7" y1="1085.4" x2="505.0" y2="1066.1" stroke="#000" stroke-width="1.8"/>
<polygon points="515.7,1056.3 510.5,1073.6 498.0,1059.8" fill="#000"/>
<text id="t47" x="523.70" y="1128.70" font-size="34" font-weight="bold" fill="#ff4000" textLength="65.60" lengthAdjust="spacingAndGlyphs">TTD</text>
<line x1="464.9" y1="1178.0" x2="464.9" y2="1160.2" stroke="#ff4000" stroke-width="4.5"/>
<polygon points="464.9,1140.2 477.8,1161.2 452.0,1161.2" fill="#ff4000"/>
<rect x="381.8" y="1179.0" width="179.5" height="59.8" fill="#800080" stroke="#333" stroke-width="1.4" />
<text id="t48" x="408.10" y="1217.80" font-size="32" font-weight="bold" fill="#fff" textLength="124.30" lengthAdjust="spacingAndGlyphs">L1 TRG</text>
<defs><clipPath id="pc"><rect x="1534" y="164" width="488" height="1156"/></clipPath><linearGradient id="bgtop" x1="0" y1="0" x2="1" y2="0"><stop offset="0" stop-color="#c6cfd5"/><stop offset="0.55" stop-color="#bcc6ce"/><stop offset="1" stop-color="#9aa6b2"/></linearGradient><linearGradient id="bgleft" x1="0" y1="0" x2="1" y2="0"><stop offset="0" stop-color="#d9e3e8"/><stop offset="0.6" stop-color="#d3dce1"/><stop offset="1" stop-color="#a9b1b6"/></linearGradient><linearGradient id="gold" x1="0" y1="0" x2="1" y2="0"><stop offset="0" stop-color="#b8a070"/><stop offset="0.5" stop-color="#d4b77c"/><stop offset="1" stop-color="#a89064"/></linearGradient><filter id="blr" x="-5%" y="-5%" width="110%" height="110%"><feGaussianBlur stdDeviation="1.1"/></filter></defs>
<g clip-path="url(#pc)"><g filter="url(#blr)">
<rect x="1534.0" y="164.0" width="488.0" height="1156.0" fill="#c9d1d7"/>
<rect x="1534.0" y="164.0" width="488.0" height="136.0" fill="url(#bgtop)"/>
<rect x="1534.0" y="290.0" width="48.0" height="980.0" fill="url(#bgleft)"/>
<linearGradient id="bgl2" x1="0" y1="0" x2="1" y2="0"><stop offset="0" stop-color="#dbe3e6"/><stop offset="0.7" stop-color="#d2d9dc"/><stop offset="1" stop-color="#9aa2a5"/></linearGradient>
<rect x="1534.0" y="880.0" width="96.0" height="386.0" fill="url(#bgl2)"/>
<rect x="1534.0" y="1262.0" width="488.0" height="58.0" fill="#d3d7da"/>
<rect x="2006.0" y="560.0" width="16.0" height="702.0" fill="#c8cdd0"/>
<polygon points="1972,292 2012,236 2022,232 2022,300 1996,314 1976,314" fill="#4c5663"/>
<polygon points="1534,266 1610,268 1610,306 1560,309 1534,308" fill="#434b58"/>
<linearGradient id="bgl3" x1="0" y1="0" x2="1" y2="0"><stop offset="0" stop-color="#cad1d4"/><stop offset="0.7" stop-color="#bcc3c5"/><stop offset="1" stop-color="#a4abad"/></linearGradient>
<rect x="1534.0" y="300.0" width="92.0" height="196.0" fill="url(#bgl3)"/>
<rect x="1625.0" y="290.0" width="343.0" height="130.0" fill="#161b22"/>
<rect x="1595.0" y="306.0" width="31.0" height="70.0" fill="#0f1519"/>
<rect x="1766.0" y="292.0" width="70.0" height="136.0" fill="#0f1216"/>
<rect x="1781.0" y="318.0" width="41.0" height="34.0" fill="#6d6b5e"/>
<rect x="1964.0" y="318.0" width="36.0" height="244.0" fill="#2b7b49"/>
<path d="M1637,195 L1650,194 L1648,210 C1647,222 1651,228 1657,232 L1661,240 L1661,292 L1625,292 L1625,240 C1629,232 1635,226 1635,214 Z" fill="#354f88"/>
<rect x="1636.0" y="241.0" width="14.0" height="7.0" fill="#dde6f2"/>
<rect x="1627.0" y="290.0" width="32.0" height="32.0" fill="#3a5896"/>
<rect x="1635.0" y="318.0" width="16.0" height="8.0" fill="#e6ecf6"/>
<rect x="1628.0" y="326.0" width="30.0" height="55.0" fill="#e9eef1"/>
<rect x="1628.0" y="340.0" width="30.0" height="2.0" fill="#b9c2c8"/>
<rect x="1628.0" y="354.0" width="30.0" height="2.0" fill="#b9c2c8"/>
<rect x="1628.0" y="368.0" width="30.0" height="2.0" fill="#b9c2c8"/>
<rect x="1627.0" y="381.0" width="32.0" height="6.0" fill="#1e2a38"/>
<rect x="1634.0" y="386.0" width="18.0" height="26.0" fill="#e9f0f7"/>
<path d="M1670.2,195 L1683.2,194 L1681.2,210 C1680.2,222 1684.2,228 1690.2,232 L1694.2,240 L1694.2,292 L1658.2,292 L1658.2,240 C1662.2,232 1668.2,226 1668.2,214 Z" fill="#354f88"/>
<rect x="1669.2" y="241.0" width="14.0" height="7.0" fill="#dde6f2"/>
<rect x="1660.2" y="290.0" width="32.0" height="32.0" fill="#3a5896"/>
<rect x="1668.2" y="318.0" width="16.0" height="8.0" fill="#e6ecf6"/>
<rect x="1661.2" y="326.0" width="30.0" height="55.0" fill="#e9eef1"/>
<rect x="1661.2" y="340.0" width="30.0" height="2.0" fill="#b9c2c8"/>
<rect x="1661.2" y="354.0" width="30.0" height="2.0" fill="#b9c2c8"/>
<rect x="1661.2" y="368.0" width="30.0" height="2.0" fill="#b9c2c8"/>
<rect x="1660.2" y="381.0" width="32.0" height="6.0" fill="#1e2a38"/>
<rect x="1667.2" y="386.0" width="18.0" height="26.0" fill="#e9f0f7"/>
<path d="M1704.8,195 L1717.8,194 L1715.8,210 C1714.8,222 1718.8,228 1724.8,232 L1728.8,240 L1728.8,292 L1692.8,292 L1692.8,240 C1696.8,232 1702.8,226 1702.8,214 Z" fill="#354f88"/>
<rect x="1703.8" y="241.0" width="14.0" height="7.0" fill="#dde6f2"/>
<rect x="1694.8" y="290.0" width="32.0" height="32.0" fill="#3a5896"/>
<rect x="1702.8" y="318.0" width="16.0" height="8.0" fill="#e6ecf6"/>
<rect x="1695.8" y="326.0" width="30.0" height="55.0" fill="#e9eef1"/>
<rect x="1695.8" y="340.0" width="30.0" height="2.0" fill="#b9c2c8"/>
<rect x="1695.8" y="354.0" width="30.0" height="2.0" fill="#b9c2c8"/>
<rect x="1695.8" y="368.0" width="30.0" height="2.0" fill="#b9c2c8"/>
<rect x="1694.8" y="381.0" width="32.0" height="6.0" fill="#1e2a38"/>
<rect x="1701.8" y="386.0" width="18.0" height="26.0" fill="#e9f0f7"/>
<path d="M1738,195 L1751,194 L1749,210 C1748,222 1752,228 1758,232 L1762,240 L1762,292 L1726,292 L1726,240 C1730,232 1736,226 1736,214 Z" fill="#354f88"/>
<rect x="1737.0" y="241.0" width="14.0" height="7.0" fill="#dde6f2"/>
<rect x="1728.0" y="290.0" width="32.0" height="32.0" fill="#3a5896"/>
<rect x="1736.0" y="318.0" width="16.0" height="8.0" fill="#e6ecf6"/>
<rect x="1729.0" y="326.0" width="30.0" height="55.0" fill="#e9eef1"/>
<rect x="1729.0" y="340.0" width="30.0" height="2.0" fill="#b9c2c8"/>
<rect x="1729.0" y="354.0" width="30.0" height="2.0" fill="#b9c2c8"/>
<rect x="1729.0" y="368.0" width="30.0" height="2.0" fill="#b9c2c8"/>
<rect x="1728.0" y="381.0" width="32.0" height="6.0" fill="#1e2a38"/>
<rect x="1735.0" y="386.0" width="18.0" height="26.0" fill="#e9f0f7"/>
<path d="M1844.3,195 L1857.3,194 L1855.3,210 C1854.3,222 1858.3,228 1864.3,232 L1868.3,240 L1868.3,292 L1832.3,292 L1832.3,240 C1836.3,232 1842.3,226 1842.3,214 Z" fill="#354f88"/>
<rect x="1843.3" y="241.0" width="14.0" height="7.0" fill="#dde6f2"/>
<rect x="1834.3" y="290.0" width="32.0" height="32.0" fill="#3a5896"/>
<rect x="1842.3" y="318.0" width="16.0" height="8.0" fill="#e6ecf6"/>
<rect x="1835.3" y="326.0" width="30.0" height="55.0" fill="#e9eef1"/>
<rect x="1835.3" y="340.0" width="30.0" height="2.0" fill="#b9c2c8"/>
<rect x="1835.3" y="354.0" width="30.0" height="2.0" fill="#b9c2c8"/>
<rect x="1835.3" y="368.0" width="30.0" height="2.0" fill="#b9c2c8"/>
<rect x="1834.3" y="381.0" width="32.0" height="6.0" fill="#1e2a38"/>
<rect x="1841.3" y="386.0" width="18.0" height="26.0" fill="#e9f0f7"/>
<path d="M1878.9,195 L1891.9,194 L1889.9,210 C1888.9,222 1892.9,228 1898.9,232 L1902.9,240 L1902.9,292 L1866.9,292 L1866.9,240 C1870.9,232 1876.9,226 1876.9,214 Z" fill="#354f88"/>
<rect x="1877.9" y="241.0" width="14.0" height="7.0" fill="#dde6f2"/>
<rect x="1868.9" y="290.0" width="32.0" height="32.0" fill="#3a5896"/>
<rect x="1876.9" y="318.0" width="16.0" height="8.0" fill="#e6ecf6"/>
<rect x="1869.9" y="326.0" width="30.0" height="55.0" fill="#e9eef1"/>
<rect x="1869.9" y="340.0" width="30.0" height="2.0" fill="#b9c2c8"/>
<rect x="1869.9" y="354.0" width="30.0" height="2.0" fill="#b9c2c8"/>
<rect x="1869.9" y="368.0" width="30.0" height="2.0" fill="#b9c2c8"/>
<rect x="1868.9" y="381.0" width="32.0" height="6.0" fill="#1e2a38"/>
<rect x="1875.9" y="386.0" width="18.0" height="26.0" fill="#e9f0f7"/>
<path d="M1912.1,195 L1925.1,194 L1923.1,210 C1922.1,222 1926.1,228 1932.1,232 L1936.1,240 L1936.1,292 L1900.1,292 L1900.1,240 C1904.1,232 1910.1,226 1910.1,214 Z" fill="#354f88"/>
<rect x="1911.1" y="241.0" width="14.0" height="7.0" fill="#dde6f2"/>
<rect x="1902.1" y="290.0" width="32.0" height="32.0" fill="#3a5896"/>
<rect x="1910.1" y="318.0" width="16.0" height="8.0" fill="#e6ecf6"/>
<rect x="1903.1" y="326.0" width="30.0" height="55.0" fill="#e9eef1"/>
<rect x="1903.1" y="340.0" width="30.0" height="2.0" fill="#b9c2c8"/>
<rect x="1903.1" y="354.0" width="30.0" height="2.0" fill="#b9c2c8"/>
<rect x="1903.1" y="368.0" width="30.0" height="2.0" fill="#b9c2c8"/>
<rect x="1902.1" y="381.0" width="32.0" height="6.0" fill="#1e2a38"/>
<rect x="1909.1" y="386.0" width="18.0" height="26.0" fill="#e9f0f7"/>
<path d="M1945.3,195 L1958.3,194 L1956.3,210 C1955.3,222 1959.3,228 1965.3,232 L1969.3,240 L1969.3,292 L1933.3,292 L1933.3,240 C1937.3,232 1943.3,226 1943.3,214 Z" fill="#354f88"/>
<rect x="1944.3" y="241.0" width="14.0" height="7.0" fill="#dde6f2"/>
<rect x="1935.3" y="290.0" width="32.0" height="32.0" fill="#3a5896"/>
<rect x="1943.3" y="318.0" width="16.0" height="8.0" fill="#e6ecf6"/>
<rect x="1936.3" y="326.0" width="30.0" height="55.0" fill="#e9eef1"/>
<rect x="1936.3" y="340.0" width="30.0" height="2.0" fill="#b9c2c8"/>
<rect x="1936.3" y="354.0" width="30.0" height="2.0" fill="#b9c2c8"/>
<rect x="1936.3" y="368.0" width="30.0" height="2.0" fill="#b9c2c8"/>
<rect x="1935.3" y="381.0" width="32.0" height="6.0" fill="#1e2a38"/>
<rect x="1942.3" y="386.0" width="18.0" height="26.0" fill="#e9f0f7"/>
<polygon points="1534,268 1985,272 1985,292 1534,291" fill="#26365f"/>
<rect x="1534" y="285" width="26" height="13" rx="5" fill="#c5ccd2"/>
<rect x="1623.0" y="374.0" width="12.0" height="122.0" fill="#10151a"/>
<rect x="1634.0" y="414.0" width="60.0" height="80.0" fill="#b2b2b0"/>
<rect x="1697.0" y="414.0" width="60.0" height="80.0" fill="#b7b7b5"/>
<circle cx="1648" cy="437" r="3" fill="#111"/>
<circle cx="1664" cy="455" r="3" fill="#111"/>
<circle cx="1648" cy="473" r="3" fill="#111"/>
<circle cx="1680" cy="473" r="3" fill="#111"/>
<circle cx="1711" cy="437" r="3" fill="#111"/>
<circle cx="1727" cy="455" r="3" fill="#111"/>
<circle cx="1711" cy="473" r="3" fill="#111"/>
<circle cx="1743" cy="473" r="3" fill="#111"/>
<rect x="1694.0" y="414.0" width="3.0" height="80.0" fill="#222"/>
<rect x="1757.0" y="420.0" width="211.0" height="76.0" fill="#1b3530"/>
<rect x="1594.0" y="449.0" width="30.0" height="34.0" fill="#22b04a"/>
<rect x="1906.0" y="415.0" width="60.0" height="147.0" fill="#1d3b31"/>
<circle cx="1986" cy="377" r="14" fill="#c9a24a" stroke="#8a6a2a" stroke-width="2"/><circle cx="1986" cy="377" r="5" fill="#f0e0c0"/>
<circle cx="1986" cy="433" r="14" fill="#c9a24a" stroke="#8a6a2a" stroke-width="2"/><circle cx="1986" cy="433" r="5" fill="#f0e0c0"/>
<circle cx="1986" cy="534" r="14" fill="#c9a24a" stroke="#8a6a2a" stroke-width="2"/><circle cx="1986" cy="534" r="5" fill="#f0e0c0"/>
<path d="M1643,408 C1663,450 1900,455 1955.0,560" fill="none" stroke="#8fa9e0" stroke-width="2"/>
<path d="M1676.2,408 C1696.2,450 1904,455 1956.5,560" fill="none" stroke="#8fa9e0" stroke-width="2"/>
<path d="M1710.8,408 C1730.8,450 1908,455 1958.0,560" fill="none" stroke="#8fa9e0" stroke-width="2"/>
<path d="M1744,408 C1764,450 1912,455 1959.5,560" fill="none" stroke="#8fa9e0" stroke-width="2"/>
<path d="M1850.3,408 C1870.3,450 1916,455 1961.0,560" fill="none" stroke="#8fa9e0" stroke-width="2"/>
<path d="M1884.9,408 C1904.9,450 1920,455 1962.5,560" fill="none" stroke="#8fa9e0" stroke-width="2"/>
<path d="M1918.1,408 C1938.1,450 1924,455 1964.0,560" fill="none" stroke="#8fa9e0" stroke-width="2"/>
<path d="M1951.3,408 C1971.3,450 1928,455 1965.5,560" fill="none" stroke="#8fa9e0" stroke-width="2"/>
<rect x="1578.0" y="496.0" width="19.0" height="320.0" fill="url(#gold)"/>
<rect x="1578.0" y="498.0" width="19.0" height="1.0" fill="#a08458"/>
<rect x="1578.0" y="502.0" width="19.0" height="1.0" fill="#a08458"/>
<rect x="1578.0" y="506.0" width="19.0" height="1.0" fill="#a08458"/>
<rect x="1578.0" y="510.0" width="19.0" height="1.0" fill="#a08458"/>
<rect x="1578.0" y="514.0" width="19.0" height="1.0" fill="#a08458"/>
<rect x="1578.0" y="518.0" width="19.0" height="1.0" fill="#a08458"/>
<rect x="1578.0" y="522.0" width="19.0" height="1.0" fill="#a08458"/>
<rect x="1578.0" y="526.0" width="19.0" height="1.0" fill="#a08458"/>
<rect x="1578.0" y="530.0" width="19.0" height="1.0" fill="#a08458"/>
<rect x="1578.0" y="534.0" width="19.0" height="1.0" fill="#a08458"/>
<rect x="1578.0" y="538.0" width="19.0" height="1.0" fill="#a08458"/>
<rect x="1578.0" y="542.0" width="19.0" height="1.0" fill="#a08458"/>
<rect x="1578.0" y="546.0" width="19.0" height="1.0" fill="#a08458"/>
<rect x="1578.0" y="550.0" width="19.0" height="1.0" fill="#a08458"/>
<rect x="1578.0" y="554.0" width="19.0" height="1.0" fill="#a08458"/>
<rect x="1578.0" y="558.0" width="19.0" height="1.0" fill="#a08458"/>
<rect x="1578.0" y="562.0" width="19.0" height="1.0" fill="#a08458"/>
<rect x="1578.0" y="566.0" width="19.0" height="1.0" fill="#a08458"/>
<rect x="1578.0" y="570.0" width="19.0" height="1.0" fill="#a08458"/>
<rect x="1578.0" y="574.0" width="19.0" height="1.0" fill="#a08458"/>
<rect x="1578.0" y="578.0" width="19.0" height="1.0" fill="#a08458"/>
<rect x="1578.0" y="582.0" width="19.0" height="1.0" fill="#a08458"/>
<rect x="1578.0" y="586.0" width="19.0" height="1.0" fill="#a08458"/>
<rect x="1578.0" y="590.0" width="19.0" height="1.0" fill="#a08458"/>
<rect x="1578.0" y="594.0" width="19.0" height="1.0" fill="#a08458"/>
<rect x="1578.0" y="598.0" width="19.0" height="1.0" fill="#a08458"/>
<rect x="1578.0" y="602.0" width="19.0" height="1.0" fill="#a08458"/>
<rect x="1578.0" y="606.0" width="19.0" height="1.0" fill="#a08458"/>
<rect x="1578.0" y="610.0" width="19.0" height="1.0" fill="#a08458"/>
<rect x="1578.0" y="614.0" width="19.0" height="1.0" fill="#a08458"/>
<rect x="1578.0" y="618.0" width="19.0" height="1.0" fill="#a08458"/>
<rect x="1578.0" y="622.0" width="19.0" height="1.0" fill="#a08458"/>
<rect x="1578.0" y="626.0" width="19.0" height="1.0" fill="#a08458"/>
<rect x="1578.0" y="630.0" width="19.0" height="1.0" fill="#a08458"/>
<rect x="1578.0" y="634.0" width="19.0" height="1.0" fill="#a08458"/>
<rect x="1578.0" y="638.0" width="19.0" height="1.0" fill="#a08458"/>
<rect x="1578.0" y="642.0" width="19.0" height="1.0" fill="#a08458"/>
<rect x="1578.0" y="646.0" width="19.0" height="1.0" fill="#a08458"/>
<rect x="1578.0" y="650.0" width="19.0" height="1.0" fill="#a08458"/>
<rect x="1578.0" y="654.0" width="19.0" height="1.0" fill="#a08458"/>
<rect x="1578.0" y="658.0" width="19.0" height="1.0" fill="#a08458"/>
<rect x="1578.0" y="662.0" width="19.0" height="1.0" fill="#a08458"/>
<rect x="1578.0" y="666.0" width="19.0" height="1.0" fill="#a08458"/>
<rect x="1578.0" y="670.0" width="19.0" height="1.0" fill="#a08458"/>
<rect x="1578.0" y="674.0" width="19.0" height="1.0" fill="#a08458"/>
<rect x="1578.0" y="678.0" width="19.0" height="1.0" fill="#a08458"/>
<rect x="1578.0" y="682.0" width="19.0" height="1.0" fill="#a08458"/>
<rect x="1578.0" y="686.0" width="19.0" height="1.0" fill="#a08458"/>
<rect x="1578.0" y="690.0" width="19.0" height="1.0" fill="#a08458"/>
<rect x="1578.0" y="694.0" width="19.0" height="1.0" fill="#a08458"/>
<rect x="1578.0" y="698.0" width="19.0" height="1.0" fill="#a08458"/>
<rect x="1578.0" y="702.0" width="19.0" height="1.0" fill="#a08458"/>
<rect x="1578.0" y="706.0" width="19.0" height="1.0" fill="#a08458"/>
<rect x="1578.0" y="710.0" width="19.0" height="1.0" fill="#a08458"/>
<rect x="1578.0" y="714.0" width="19.0" height="1.0" fill="#a08458"/>
<rect x="1578.0" y="718.0" width="19.0" height="1.0" fill="#a08458"/>
<rect x="1578.0" y="722.0" width="19.0" height="1.0" fill="#a08458"/>
<rect x="1578.0" y="726.0" width="19.0" height="1.0" fill="#a08458"/>
<rect x="1578.0" y="730.0" width="19.0" height="1.0" fill="#a08458"/>
<rect x="1578.0" y="734.0" width="19.0" height="1.0" fill="#a08458"/>
<rect x="1578.0" y="738.0" width="19.0" height="1.0" fill="#a08458"/>
<rect x="1578.0" y="742.0" width="19.0" height="1.0" fill="#a08458"/>
<rect x="1578.0" y="746.0" width="19.0" height="1.0" fill="#a08458"/>
<rect x="1578.0" y="750.0" width="19.0" height="1.0" fill="#a08458"/>
<rect x="1578.0" y="754.0" width="19.0" height="1.0" fill="#a08458"/>
<rect x="1578.0" y="758.0" width="19.0" height="1.0" fill="#a08458"/>
<rect x="1578.0" y="762.0" width="19.0" height="1.0" fill="#a08458"/>
<rect x="1578.0" y="766.0" width="19.0" height="1.0" fill="#a08458"/>
<rect x="1578.0" y="770.0" width="19.0" height="1.0" fill="#a08458"/>
<rect x="1578.0" y="774.0" width="19.0" height="1.0" fill="#a08458"/>
<rect x="1578.0" y="778.0" width="19.0" height="1.0" fill="#a08458"/>
<rect x="1578.0" y="782.0" width="19.0" height="1.0" fill="#a08458"/>
<rect x="1578.0" y="786.0" width="19.0" height="1.0" fill="#a08458"/>
<rect x="1578.0" y="790.0" width="19.0" height="1.0" fill="#a08458"/>
<rect x="1578.0" y="794.0" width="19.0" height="1.0" fill="#a08458"/>
<rect x="1578.0" y="798.0" width="19.0" height="1.0" fill="#a08458"/>
<rect x="1578.0" y="802.0" width="19.0" height="1.0" fill="#a08458"/>
<rect x="1578.0" y="806.0" width="19.0" height="1.0" fill="#a08458"/>
<rect x="1578.0" y="810.0" width="19.0" height="1.0" fill="#a08458"/>
<rect x="1578.0" y="814.0" width="19.0" height="1.0" fill="#a08458"/>
<rect x="1597.0" y="492.0" width="37.0" height="410.0" fill="#1b2928"/>
<path d="M1588,822 L1620,818 L1626,850 L1612,858 L1610,880 L1590,880 Z" fill="#23b24b"/>
<rect x="1634.0" y="492.0" width="275.0" height="410.0" fill="#090b12"/>
<rect x="1657.5" y="500.0" width="5.0" height="396.0" fill="#46507a"/>
<rect x="1671.4" y="500.0" width="5.0" height="396.0" fill="#46507a"/>
<rect x="1685.3" y="500.0" width="5.0" height="396.0" fill="#46507a"/>
<rect x="1699.2" y="500.0" width="5.0" height="396.0" fill="#46507a"/>
<rect x="1713.1" y="500.0" width="5.0" height="396.0" fill="#46507a"/>
<rect x="1727.0" y="500.0" width="5.0" height="396.0" fill="#46507a"/>
<rect x="1740.9" y="500.0" width="5.0" height="396.0" fill="#46507a"/>
<rect x="1754.8" y="500.0" width="5.0" height="396.0" fill="#46507a"/>
<rect x="1768.7" y="500.0" width="5.0" height="396.0" fill="#46507a"/>
<rect x="1782.6" y="500.0" width="5.0" height="396.0" fill="#46507a"/>
<rect x="1796.5" y="500.0" width="5.0" height="396.0" fill="#46507a"/>
<rect x="1810.4" y="500.0" width="5.0" height="396.0" fill="#46507a"/>
<rect x="1824.3" y="500.0" width="5.0" height="396.0" fill="#46507a"/>
<rect x="1838.2" y="500.0" width="5.0" height="396.0" fill="#46507a"/>
<rect x="1852.1" y="500.0" width="5.0" height="396.0" fill="#46507a"/>
<rect x="1866.0" y="500.0" width="5.0" height="396.0" fill="#46507a"/>
<rect x="1879.9" y="500.0" width="5.0" height="396.0" fill="#46507a"/>
<rect x="1893.8" y="500.0" width="5.0" height="396.0" fill="#46507a"/>
<rect x="1640.0" y="532.0" width="265.0" height="6.0" fill="#0a0f24"/>
<rect x="1640.0" y="578.0" width="265.0" height="6.0" fill="#0a0f24"/>
<rect x="1640.0" y="623.0" width="265.0" height="6.0" fill="#0a0f24"/>
<rect x="1640.0" y="669.0" width="265.0" height="6.0" fill="#0a0f24"/>
<rect x="1640.0" y="714.0" width="265.0" height="6.0" fill="#0a0f24"/>
<rect x="1640.0" y="760.0" width="265.0" height="6.0" fill="#0a0f24"/>
<rect x="1640.0" y="805.0" width="265.0" height="6.0" fill="#0a0f24"/>
<rect x="1640.0" y="851.0" width="265.0" height="6.0" fill="#0a0f24"/>
<rect x="1838.0" y="479.0" width="46.0" height="20.0" fill="#a8cdea"/>
<circle cx="1682.7" cy="562.8" r="11" fill="#e6d6a0"/>
<circle cx="1892" cy="562.8" r="11" fill="#e6d6a0"/>
<circle cx="1678" cy="883" r="11" fill="#e6d6a0"/>
<circle cx="1890.6" cy="883" r="11" fill="#e6d6a0"/>
<circle cx="1843" cy="657" r="9" fill="#3a2224"/>
<rect x="2000.0" y="556.0" width="22.0" height="640.0" fill="#b9cbc6"/>
<polygon points="1906,560 2006,552 2008,1192 1906,1196" fill="#252b37"/>
<polygon points="1912,563 2008,560 2016,564 2010,571 1912,572" fill="#05070b"/>
<polygon points="1912,583 2008,580 2016,584 2010,591 1912,592" fill="#05070b"/>
<polygon points="1912,603 2008,600 2016,604 2010,611 1912,612" fill="#05070b"/>
<polygon points="1912,623 2008,620 2016,624 2010,631 1912,632" fill="#05070b"/>
<polygon points="1912,643 2008,640 2016,644 2010,651 1912,652" fill="#05070b"/>
<polygon points="1912,663 2008,660 2016,664 2010,671 1912,672" fill="#05070b"/>
<polygon points="1912,683 2008,680 2016,684 2010,691 1912,692" fill="#05070b"/>
<polygon points="1912,703 2008,700 2016,704 2010,711 1912,712" fill="#05070b"/>
<polygon points="1912,723 2008,720 2016,724 2010,731 1912,732" fill="#05070b"/>
<polygon points="1912,743 2008,740 2016,744 2010,751 1912,752" fill="#05070b"/>
<polygon points="1912,763 2008,760 2016,764 2010,771 1912,772" fill="#05070b"/>
<polygon points="1912,783 2008,780 2016,784 2010,791 1912,792" fill="#05070b"/>
<polygon points="1912,803 2008,800 2016,804 2010,811 1912,812" fill="#05070b"/>
<polygon points="1912,823 2008,820 2016,824 2010,831 1912,832" fill="#05070b"/>
<polygon points="1912,843 2008,840 2016,844 2010,851 1912,852" fill="#05070b"/>
<polygon points="1912,863 2008,860 2016,864 2010,871 1912,872" fill="#05070b"/>
<polygon points="1912,883 2008,880 2016,884 2010,891 1912,892" fill="#05070b"/>
<polygon points="1912,903 2008,900 2016,904 2010,911 1912,912" fill="#05070b"/>
<polygon points="1912,923 2008,920 2016,924 2010,931 1912,932" fill="#05070b"/>
<polygon points="1912,943 2008,940 2016,944 2010,951 1912,952" fill="#05070b"/>
<polygon points="1912,963 2008,960 2016,964 2010,971 1912,972" fill="#05070b"/>
<polygon points="1912,983 2008,980 2016,984 2010,991 1912,992" fill="#05070b"/>
<polygon points="1912,1003 2008,1000 2016,1004 2010,1011 1912,1012" fill="#05070b"/>
<polygon points="1912,1023 2008,1020 2016,1024 2010,1031 1912,1032" fill="#05070b"/>
<polygon points="1912,1043 2008,1040 2016,1044 2010,1051 1912,1052" fill="#05070b"/>
<polygon points="1912,1063 2008,1060 2016,1064 2010,1071 1912,1072" fill="#05070b"/>
<polygon points="1912,1083 2008,1080 2016,1084 2010,1091 1912,1092" fill="#05070b"/>
<polygon points="1912,1103 2008,1100 2016,1104 2010,1111 1912,1112" fill="#05070b"/>
<polygon points="1912,1123 2008,1120 2016,1124 2010,1131 1912,1132" fill="#05070b"/>
<polygon points="1912,1143 2008,1140 2016,1144 2010,1151 1912,1152" fill="#05070b"/>
<polygon points="1912,1163 2008,1160 2016,1164 2010,1171 1912,1172" fill="#05070b"/>
<polygon points="1912,1183 2008,1180 2016,1184 2010,1191 1912,1192" fill="#05070b"/>
<rect x="1930.0" y="573.0" width="9.0" height="6.0" fill="#0a0c12"/>
<rect x="1948.0" y="573.0" width="9.0" height="6.0" fill="#0a0c12"/>
<rect x="1966.0" y="573.0" width="9.0" height="6.0" fill="#0a0c12"/>
<rect x="1984.0" y="573.0" width="9.0" height="6.0" fill="#0a0c12"/>
<rect x="1930.0" y="593.0" width="9.0" height="6.0" fill="#0a0c12"/>
<rect x="1948.0" y="593.0" width="9.0" height="6.0" fill="#0a0c12"/>
<rect x="1966.0" y="593.0" width="9.0" height="6.0" fill="#0a0c12"/>
<rect x="1984.0" y="593.0" width="9.0" height="6.0" fill="#0a0c12"/>
<rect x="1930.0" y="613.0" width="9.0" height="6.0" fill="#0a0c12"/>
<rect x="1948.0" y="613.0" width="9.0" height="6.0" fill="#0a0c12"/>
<rect x="1966.0" y="613.0" width="9.0" height="6.0" fill="#0a0c12"/>
<rect x="1984.0" y="613.0" width="9.0" height="6.0" fill="#0a0c12"/>
<rect x="1930.0" y="633.0" width="9.0" height="6.0" fill="#0a0c12"/>
<rect x="1948.0" y="633.0" width="9.0" height="6.0" fill="#0a0c12"/>
<rect x="1966.0" y="633.0" width="9.0" height="6.0" fill="#0a0c12"/>
<rect x="1984.0" y="633.0" width="9.0" height="6.0" fill="#0a0c12"/>
<rect x="1930.0" y="653.0" width="9.0" height="6.0" fill="#0a0c12"/>
<rect x="1948.0" y="653.0" width="9.0" height="6.0" fill="#0a0c12"/>
<rect x="1966.0" y="653.0" width="9.0" height="6.0" fill="#0a0c12"/>
<rect x="1984.0" y="653.0" width="9.0" height="6.0" fill="#0a0c12"/>
<rect x="1930.0" y="673.0" width="9.0" height="6.0" fill="#0a0c12"/>
<rect x="1948.0" y="673.0" width="9.0" height="6.0" fill="#0a0c12"/>
<rect x="1966.0" y="673.0" width="9.0" height="6.0" fill="#0a0c12"/>
<rect x="1984.0" y="673.0" width="9.0" height="6.0" fill="#0a0c12"/>
<rect x="1930.0" y="693.0" width="9.0" height="6.0" fill="#0a0c12"/>
<rect x="1948.0" y="693.0" width="9.0" height="6.0" fill="#0a0c12"/>
<rect x="1966.0" y="693.0" width="9.0" height="6.0" fill="#0a0c12"/>
<rect x="1984.0" y="693.0" width="9.0" height="6.0" fill="#0a0c12"/>
<rect x="1930.0" y="713.0" width="9.0" height="6.0" fill="#0a0c12"/>
<rect x="1948.0" y="713.0" width="9.0" height="6.0" fill="#0a0c12"/>
<rect x="1966.0" y="713.0" width="9.0" height="6.0" fill="#0a0c12"/>
<rect x="1984.0" y="713.0" width="9.0" height="6.0" fill="#0a0c12"/>
<rect x="1930.0" y="733.0" width="9.0" height="6.0" fill="#0a0c12"/>
<rect x="1948.0" y="733.0" width="9.0" height="6.0" fill="#0a0c12"/>
<rect x="1966.0" y="733.0" width="9.0" height="6.0" fill="#0a0c12"/>
<rect x="1984.0" y="733.0" width="9.0" height="6.0" fill="#0a0c12"/>
<rect x="1930.0" y="753.0" width="9.0" height="6.0" fill="#0a0c12"/>
<rect x="1948.0" y="753.0" width="9.0" height="6.0" fill="#0a0c12"/>
<rect x="1966.0" y="753.0" width="9.0" height="6.0" fill="#0a0c12"/>
<rect x="1984.0" y="753.0" width="9.0" height="6.0" fill="#0a0c12"/>
<rect x="1930.0" y="773.0" width="9.0" height="6.0" fill="#0a0c12"/>
<rect x="1948.0" y="773.0" width="9.0" height="6.0" fill="#0a0c12"/>
<rect x="1966.0" y="773.0" width="9.0" height="6.0" fill="#0a0c12"/>
<rect x="1984.0" y="773.0" width="9.0" height="6.0" fill="#0a0c12"/>
<rect x="1930.0" y="793.0" width="9.0" height="6.0" fill="#0a0c12"/>
<rect x="1948.0" y="793.0" width="9.0" height="6.0" fill="#0a0c12"/>
<rect x="1966.0" y="793.0" width="9.0" height="6.0" fill="#0a0c12"/>
<rect x="1984.0" y="793.0" width="9.0" height="6.0" fill="#0a0c12"/>
<rect x="1930.0" y="813.0" width="9.0" height="6.0" fill="#0a0c12"/>
<rect x="1948.0" y="813.0" width="9.0" height="6.0" fill="#0a0c12"/>
<rect x="1966.0" y="813.0" width="9.0" height="6.0" fill="#0a0c12"/>
<rect x="1984.0" y="813.0" width="9.0" height="6.0" fill="#0a0c12"/>
<rect x="1930.0" y="833.0" width="9.0" height="6.0" fill="#0a0c12"/>
<rect x="1948.0" y="833.0" width="9.0" height="6.0" fill="#0a0c12"/>
<rect x="1966.0" y="833.0" width="9.0" height="6.0" fill="#0a0c12"/>
<rect x="1984.0" y="833.0" width="9.0" height="6.0" fill="#0a0c12"/>
<rect x="1930.0" y="853.0" width="9.0" height="6.0" fill="#0a0c12"/>
<rect x="1948.0" y="853.0" width="9.0" height="6.0" fill="#0a0c12"/>
<rect x="1966.0" y="853.0" width="9.0" height="6.0" fill="#0a0c12"/>
<rect x="1984.0" y="853.0" width="9.0" height="6.0" fill="#0a0c12"/>
<rect x="1930.0" y="873.0" width="9.0" height="6.0" fill="#0a0c12"/>
<rect x="1948.0" y="873.0" width="9.0" height="6.0" fill="#0a0c12"/>
<rect x="1966.0" y="873.0" width="9.0" height="6.0" fill="#0a0c12"/>
<rect x="1984.0" y="873.0" width="9.0" height="6.0" fill="#0a0c12"/>
<rect x="1930.0" y="893.0" width="9.0" height="6.0" fill="#0a0c12"/>
<rect x="1948.0" y="893.0" width="9.0" height="6.0" fill="#0a0c12"/>
<rect x="1966.0" y="893.0" width="9.0" height="6.0" fill="#0a0c12"/>
<rect x="1984.0" y="893.0" width="9.0" height="6.0" fill="#0a0c12"/>
<rect x="1930.0" y="913.0" width="9.0" height="6.0" fill="#0a0c12"/>
<rect x="1948.0" y="913.0" width="9.0" height="6.0" fill="#0a0c12"/>
<rect x="1966.0" y="913.0" width="9.0" height="6.0" fill="#0a0c12"/>
<rect x="1984.0" y="913.0" width="9.0" height="6.0" fill="#0a0c12"/>
<rect x="1930.0" y="933.0" width="9.0" height="6.0" fill="#0a0c12"/>
<rect x="1948.0" y="933.0" width="9.0" height="6.0" fill="#0a0c12"/>
<rect x="1966.0" y="933.0" width="9.0" height="6.0" fill="#0a0c12"/>
<rect x="1984.0" y="933.0" width="9.0" height="6.0" fill="#0a0c12"/>
<rect x="1930.0" y="953.0" width="9.0" height="6.0" fill="#0a0c12"/>
<rect x="1948.0" y="953.0" width="9.0" height="6.0" fill="#0a0c12"/>
<rect x="1966.0" y="953.0" width="9.0" height="6.0" fill="#0a0c12"/>
<rect x="1984.0" y="953.0" width="9.0" height="6.0" fill="#0a0c12"/>
<rect x="1930.0" y="973.0" width="9.0" height="6.0" fill="#0a0c12"/>
<rect x="1948.0" y="973.0" width="9.0" height="6.0" fill="#0a0c12"/>
<rect x="1966.0" y="973.0" width="9.0" height="6.0" fill="#0a0c12"/>
<rect x="1984.0" y="973.0" width="9.0" height="6.0" fill="#0a0c12"/>
<rect x="1930.0" y="993.0" width="9.0" height="6.0" fill="#0a0c12"/>
<rect x="1948.0" y="993.0" width="9.0" height="6.0" fill="#0a0c12"/>
<rect x="1966.0" y="993.0" width="9.0" height="6.0" fill="#0a0c12"/>
<rect x="1984.0" y="993.0" width="9.0" height="6.0" fill="#0a0c12"/>
<rect x="1930.0" y="1013.0" width="9.0" height="6.0" fill="#0a0c12"/>
<rect x="1948.0" y="1013.0" width="9.0" height="6.0" fill="#0a0c12"/>
<rect x="1966.0" y="1013.0" width="9.0" height="6.0" fill="#0a0c12"/>
<rect x="1984.0" y="1013.0" width="9.0" height="6.0" fill="#0a0c12"/>
<rect x="1930.0" y="1033.0" width="9.0" height="6.0" fill="#0a0c12"/>
<rect x="1948.0" y="1033.0" width="9.0" height="6.0" fill="#0a0c12"/>
<rect x="1966.0" y="1033.0" width="9.0" height="6.0" fill="#0a0c12"/>
<rect x="1984.0" y="1033.0" width="9.0" height="6.0" fill="#0a0c12"/>
<rect x="1930.0" y="1053.0" width="9.0" height="6.0" fill="#0a0c12"/>
<rect x="1948.0" y="1053.0" width="9.0" height="6.0" fill="#0a0c12"/>
<rect x="1966.0" y="1053.0" width="9.0" height="6.0" fill="#0a0c12"/>
<rect x="1984.0" y="1053.0" width="9.0" height="6.0" fill="#0a0c12"/>
<rect x="1930.0" y="1073.0" width="9.0" height="6.0" fill="#0a0c12"/>
<rect x="1948.0" y="1073.0" width="9.0" height="6.0" fill="#0a0c12"/>
<rect x="1966.0" y="1073.0" width="9.0" height="6.0" fill="#0a0c12"/>
<rect x="1984.0" y="1073.0" width="9.0" height="6.0" fill="#0a0c12"/>
<rect x="1930.0" y="1093.0" width="9.0" height="6.0" fill="#0a0c12"/>
<rect x="1948.0" y="1093.0" width="9.0" height="6.0" fill="#0a0c12"/>
<rect x="1966.0" y="1093.0" width="9.0" height="6.0" fill="#0a0c12"/>
<rect x="1984.0" y="1093.0" width="9.0" height="6.0" fill="#0a0c12"/>
<rect x="1930.0" y="1113.0" width="9.0" height="6.0" fill="#0a0c12"/>
<rect x="1948.0" y="1113.0" width="9.0" height="6.0" fill="#0a0c12"/>
<rect x="1966.0" y="1113.0" width="9.0" height="6.0" fill="#0a0c12"/>
<rect x="1984.0" y="1113.0" width="9.0" height="6.0" fill="#0a0c12"/>
<rect x="1930.0" y="1133.0" width="9.0" height="6.0" fill="#0a0c12"/>
<rect x="1948.0" y="1133.0" width="9.0" height="6.0" fill="#0a0c12"/>
<rect x="1966.0" y="1133.0" width="9.0" height="6.0" fill="#0a0c12"/>
<rect x="1984.0" y="1133.0" width="9.0" height="6.0" fill="#0a0c12"/>
<rect x="1930.0" y="1153.0" width="9.0" height="6.0" fill="#0a0c12"/>
<rect x="1948.0" y="1153.0" width="9.0" height="6.0" fill="#0a0c12"/>
<rect x="1966.0" y="1153.0" width="9.0" height="6.0" fill="#0a0c12"/>
<rect x="1984.0" y="1153.0" width="9.0" height="6.0" fill="#0a0c12"/>
<rect x="1930.0" y="1173.0" width="9.0" height="6.0" fill="#0a0c12"/>
<rect x="1948.0" y="1173.0" width="9.0" height="6.0" fill="#0a0c12"/>
<rect x="1966.0" y="1173.0" width="9.0" height="6.0" fill="#0a0c12"/>
<rect x="1984.0" y="1173.0" width="9.0" height="6.0" fill="#0a0c12"/>
<rect x="1906.0" y="558.0" width="7.0" height="638.0" fill="#0a0d1c"/>
<rect x="1922.0" y="598.0" width="74.0" height="6.0" fill="#c4ccd4"/>
<rect x="1922.0" y="676.0" width="74.0" height="6.0" fill="#c4ccd4"/>
<rect x="1922.0" y="755.0" width="74.0" height="6.0" fill="#c4ccd4"/>
<rect x="1922.0" y="834.0" width="74.0" height="6.0" fill="#c4ccd4"/>
<rect x="1922.0" y="913.0" width="74.0" height="6.0" fill="#c4ccd4"/>
<rect x="1922.0" y="994.0" width="74.0" height="6.0" fill="#c4ccd4"/>
<rect x="1922.0" y="1073.0" width="74.0" height="6.0" fill="#c4ccd4"/>
<rect x="1922.0" y="1156.0" width="74.0" height="6.0" fill="#c4ccd4"/>
<rect x="1628.0" y="900.0" width="282.0" height="365.0" fill="#189b4c"/>
<rect x="1670.0" y="1040.0" width="186.0" height="93.0" fill="#21a957"/>
<rect x="1628.0" y="1133.0" width="132.0" height="132.0" fill="#138444"/>
<rect x="1646.0" y="930.0" width="51.0" height="52.0" fill="#4b6b8c"/>
<rect x="1829.0" y="930.0" width="43.0" height="38.0" fill="#456a8a"/>
<rect x="1713.0" y="963.0" width="46.0" height="43.0" fill="#8797a6"/>
<rect x="1774.0" y="963.0" width="42.0" height="43.0" fill="#8797a6"/>
<rect x="1709.0" y="908.0" width="97.0" height="24.0" fill="#1b3d3c"/>
<rect x="1746.0" y="1174.0" width="64.0" height="67.0" fill="#24326e"/>
<rect x="1752.0" y="1198.0" width="52.0" height="16.0" fill="#c8ccd0"/>
<rect x="1846.0" y="1181.0" width="54.0" height="52.0" fill="#30404e"/>
<rect x="1650.0" y="1033.0" width="4.0" height="4.0" fill="#c8c090"/>
<rect x="1658.0" y="1033.0" width="4.0" height="4.0" fill="#c8c090"/>
<rect x="1666.0" y="1033.0" width="4.0" height="4.0" fill="#c8c090"/>
<rect x="1674.0" y="1033.0" width="4.0" height="4.0" fill="#c8c090"/>
<rect x="1682.0" y="1033.0" width="4.0" height="4.0" fill="#c8c090"/>
<rect x="1690.0" y="1033.0" width="4.0" height="4.0" fill="#c8c090"/>
<rect x="1698.0" y="1033.0" width="4.0" height="4.0" fill="#c8c090"/>
<rect x="1706.0" y="1140.0" width="4.0" height="4.0" fill="#c8c090"/>
<rect x="1715.0" y="1140.0" width="4.0" height="4.0" fill="#c8c090"/>
<rect x="1724.0" y="1140.0" width="4.0" height="4.0" fill="#c8c090"/>
<rect x="1733.0" y="1140.0" width="4.0" height="4.0" fill="#c8c090"/>
<rect x="1742.0" y="1140.0" width="4.0" height="4.0" fill="#c8c090"/>
<rect x="1751.0" y="1140.0" width="4.0" height="4.0" fill="#c8c090"/>
<rect x="1760.0" y="1140.0" width="4.0" height="4.0" fill="#c8c090"/>
<rect x="1769.0" y="1140.0" width="4.0" height="4.0" fill="#c8c090"/>
<rect x="1778.0" y="1140.0" width="4.0" height="4.0" fill="#c8c090"/>
<rect x="1787.0" y="1140.0" width="4.0" height="4.0" fill="#c8c090"/>
<rect x="1796.0" y="1140.0" width="4.0" height="4.0" fill="#c8c090"/>
<rect x="1805.0" y="1140.0" width="4.0" height="4.0" fill="#c8c090"/>
<rect x="1814.0" y="1140.0" width="4.0" height="4.0" fill="#c8c090"/>
<rect x="1823.0" y="1140.0" width="4.0" height="4.0" fill="#c8c090"/>
<rect x="1832.0" y="1140.0" width="4.0" height="4.0" fill="#c8c090"/>
<rect x="1841.0" y="1140.0" width="4.0" height="4.0" fill="#c8c090"/>
<rect x="1850.0" y="1140.0" width="4.0" height="4.0" fill="#c8c090"/>
<rect x="1859.0" y="1140.0" width="4.0" height="4.0" fill="#c8c090"/>
<circle cx="1700" cy="1070" r="8" fill="#a8c0b8"/><circle cx="1760" cy="1068" r="8" fill="#a8c0b8"/><circle cx="1676" cy="1110" r="8" fill="#a8c0b8"/><circle cx="1852" cy="1110" r="8" fill="#a8c0b8"/>
<path d="M1806,1060 A40,40 0 0 1 1846,1100 L1806,1100 Z" fill="#cfe6e0"/>
<rect x="1672.0" y="1242.0" width="50.0" height="14.0" fill="#d8d0b0"/>
<circle cx="1645" cy="1247" r="7" fill="#a08040"/>
<rect x="1910.0" y="1192.0" width="74.0" height="38.0" fill="#1f3129"/>
<rect x="1910.0" y="1229.0" width="73.0" height="53.0" fill="#dfe5f1"/>
<rect x="1982.0" y="1190.0" width="24.0" height="68.0" fill="#2a9152"/>
</g></g>
</svg>
</body></html>
